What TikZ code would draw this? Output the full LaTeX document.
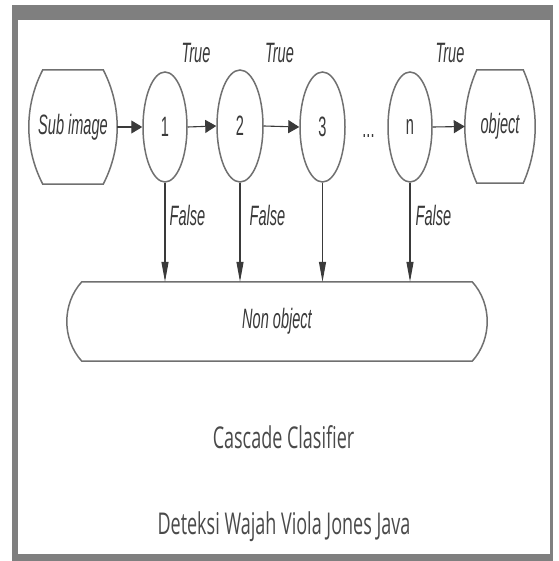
\documentclass[tikz,border=0pt]{standalone}
\usepackage{graphicx}
\usepackage{fontspec}
\setmainfont{Liberation Sans}
\newfontfamily\captionfont{Open Sans}
\usetikzlibrary{shapes.geometric,arrows.meta,calc}

\definecolor{framegray}{HTML}{7F7F7F}
\definecolor{outline}{HTML}{707070}
\definecolor{ink}{HTML}{3A3A3A}
\definecolor{captionink}{HTML}{4A4A4A}

% condensed lettering used throughout the chart
\newcommand\squeeze[1]{\scalebox{0.52}[1]{#1}}
\newcommand\widesqueeze[1]{\scalebox{0.6}[1]{#1}}

% box with bulging left and right sides, drawn around a named node
% #1 node name, #2 bulge depth, #3 control offset
\newcommand\capsule[3]{%
  \draw[outlinestyle]
    ($(#1.north west)+(#2,0)$) -- ($(#1.north east)+(-#2,0)$)
    .. controls ($(#1.north east)+(#2/3,#3)$) and ($(#1.south east)+(#2/3,-#3)$) .. ($(#1.south east)+(-#2,0)$)
    -- ($(#1.south west)+(#2,0)$)
    .. controls ($(#1.south west)+(-#2/3,-#3)$) and ($(#1.north west)+(-#2/3,#3)$) .. cycle;}

\tikzset{
  outlinestyle/.style={draw=outline, line width=1.5pt},
  txt/.style={text=ink, font=\fontsize{28}{30}\selectfont, inner sep=0pt},
  boxnode/.style={txt, rectangle, draw=none},
  stage/.style={txt, ellipse, outlinestyle, inner sep=0pt},
  flow/.style={draw=ink, line width=1.1pt, -{Triangle[length=11pt,width=13pt]}},
  reject/.style={draw=ink, line width=1.1pt, -{Triangle[length=20pt,width=7pt]}},
  lbl/.style={txt, anchor=base},
  caption/.style={text=captionink, font=\captionfont\fontsize{30}{32}\selectfont, inner sep=0pt, anchor=base}
}

\begin{document}
\begin{tikzpicture}[x=1pt, y=-1pt]
  \useasboundingbox (0,0) rectangle (558,561);

  % window frame
  \fill[framegray] (12,5) rectangle (553,561);
  \fill[white] (18,20) rectangle (550,554);

  % cascade stages
  \node[boxnode, minimum width=88pt, minimum height=114pt] (sub) at (73,127) {\squeeze{\itshape Sub image}};
  \node[stage, minimum width=44pt, minimum height=110pt] (c1) at (165,127) {\squeeze{1}};
  \node[stage, minimum width=46pt, minimum height=112pt] (c2) at (240,126) {\squeeze{2}};
  \node[stage, minimum width=45pt, minimum height=110pt] (c3) at (322.5,127) {\squeeze{3}};
  \node[lbl] (dots) at (368.5,138) {\squeeze{...}};
  \node[stage, minimum width=44pt, minimum height=110pt] (cn) at (410,127) {\squeeze{n}};
  \node[boxnode, minimum width=70pt, minimum height=113pt] (obj) at (500,126.5) {\squeeze{\itshape object}};
  \node[boxnode, minimum width=420pt, minimum height=79pt] (non) at (277,321.5) {\squeeze{\itshape Non object}};

  \capsule{sub}{14}{36}
  \capsule{obj}{12}{36}
  \capsule{non}{15}{22}

  % positive path
  \draw[flow] (sub.east) -- (c1.west);
  \draw[flow] (c1.east) -- (c2.west);
  \draw[flow] (c2.east) -- (c3.west);
  \draw[flow] (cn.east) -- (obj.west);

  % rejection paths
  \draw[reject] (c1.south) -- (c1.south |- non.north);
  \draw[reject] (c2.south) -- (c2.south |- non.north);
  \draw[reject] (c3.south) -- (c3.south |- non.north);
  \draw[reject] (cn.south) -- (cn.south |- non.north);

  % edge labels
  \node[lbl] (t1) at (196,63) {\squeeze{\itshape True}};
  \node[lbl] (t2) at (279.5,63) {\squeeze{\itshape True}};
  \node[lbl] (t3) at (450,63) {\squeeze{\itshape True}};
  \node[lbl] (f1) at (187.5,225) {\squeeze{\itshape False}};
  \node[lbl] (f2) at (267.5,225) {\squeeze{\itshape False}};
  \node[lbl] (f3) at (433.5,225) {\squeeze{\itshape False}};

  % captions
  \node[caption] (cap1) at (283.5,448) {\widesqueeze{Cascade Clasifier}};
  \node[caption] (cap2) at (284,534) {\widesqueeze{Deteksi Wajah Viola Jones Java}};
\end{tikzpicture}
\end{document}
